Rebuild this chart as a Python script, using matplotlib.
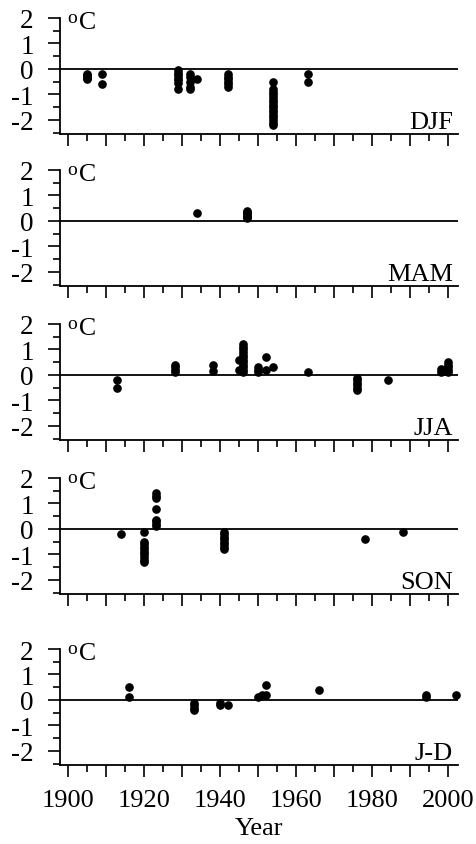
import matplotlib
matplotlib.use("Agg")
import matplotlib.pyplot as plt
from matplotlib.ticker import MultipleLocator
import matplotlib.transforms as mtransforms

plt.rcParams['font.family'] = ['Liberation Serif', 'DejaVu Serif']

# ---- data (year, anomaly in degC) ----
djf_years = [1905]*5 + [1909]*2 + [1929]*7 + [1932]*5 + [1934] + [1942]*6 + [1954]*16 + [1963]*2
djf_vals = [-0.2, -0.25, -0.3, -0.35, -0.4,
            -0.2, -0.6,
            -0.05, -0.15, -0.25, -0.35, -0.45, -0.55, -0.8,
            -0.2, -0.3, -0.5, -0.7, -0.8,
            -0.4,
            -0.2, -0.3, -0.4, -0.5, -0.6, -0.7,
            -0.5, -0.8, -0.9, -1.0, -1.1, -1.2, -1.3, -1.4, -1.5, -1.6, -1.7, -1.8, -1.9, -2.0, -2.1, -2.2,
            -0.2, -0.5]

mam_years = [1934] + [1947]*7
mam_vals = [0.3, 0.1, 0.15, 0.2, 0.25, 0.3, 0.35, 0.4]

jja_years = ([1913]*2 + [1928]*4 + [1938]*2 + [1945]*2 + [1946]*12 + [1950]*3 +
             [1952]*2 + [1954] + [1963] + [1976]*6 + [1984] + [1998]*2 + [2000]*5)
jja_vals = [-0.2, -0.5,
            0.1, 0.2, 0.3, 0.4,
            0.4, 0.15,
            0.6, 0.2,
            0.1, 0.2, 0.3, 0.4, 0.5, 0.6, 0.7, 0.8, 0.9, 1.0, 1.1, 1.2,
            0.1, 0.2, 0.3,
            0.7, 0.2,
            0.3,
            0.1,
            -0.1, -0.2, -0.3, -0.4, -0.5, -0.6,
            -0.2,
            0.25, 0.1,
            0.1, 0.2, 0.3, 0.4, 0.5]

son_years = [1914] + [1920]*10 + [1923]*8 + [1941]*8 + [1978] + [1988]
son_vals = [-0.2,
            -0.1, -0.5, -0.6, -0.7, -0.8, -0.9, -1.0, -1.1, -1.2, -1.3,
            1.4, 1.3, 1.2, 0.8, 0.35, 0.3, 0.2, 0.1,
            -0.1, -0.2, -0.3, -0.4, -0.5, -0.6, -0.7, -0.8,
            -0.4,
            -0.1]

jd_years = [1916]*2 + [1933]*4 + [1940]*2 + [1942] + [1950] + [1951] + [1952]*2 + [1966] + [1994]*2 + [2002]
jd_vals = [0.5, 0.1,
           -0.1, -0.2, -0.3, -0.4,
           -0.1, -0.2,
           -0.2,
           0.1,
           0.2,
           0.2, 0.6,
           0.4,
           0.1, 0.2,
           0.2]

season_labels = ['DJF', 'MAM', 'JJA', 'SON', 'J-D']
series = [(djf_years, djf_vals), (mam_years, mam_vals), (jja_years, jja_vals),
          (son_years, son_vals), (jd_years, jd_vals)]
xtick_vals = list(range(1900, 2001, 10))
xtick_labels = ['1900', '', '1920', '', '1940', '', '1960', '', '1980', '', '2000']
ytick_vals = [-2, -1, 0, 1, 2]

W, H = 476, 845
fig = plt.figure(figsize=(W/100, H/100), dpi=100)

bottoms_px = [135, 287, 441, 595, 766]
panel_h = 116
left_px, right_px = 60, 458

for i, (lab, (xs, ys)) in enumerate(zip(season_labels, series)):
    b = 1 - bottoms_px[i]/H
    ax = fig.add_axes([left_px/W, b, (right_px-left_px)/W, panel_h/H])
    ax.set_xlim(1897.9, 2002.5)
    ax.set_ylim(-2.55, 2.0)
    ax.plot(xs, ys, 'o', color='black', markersize=5.2, clip_on=False, zorder=3)
    ax.axhline(0, color='black', lw=1.3, zorder=2)
    for s in ['top', 'right']:
        ax.spines[s].set_visible(False)
    for s in ['left', 'bottom']:
        ax.spines[s].set_linewidth(1.3)
    ax.set_yticks(ytick_vals)
    ax.set_yticklabels([str(v) for v in ytick_vals])
    ax.yaxis.set_minor_locator(MultipleLocator(0.5))
    ax.set_xticks(xtick_vals)
    ax.xaxis.set_minor_locator(MultipleLocator(5))
    ax.tick_params(which='major', direction='out', length=8.5, width=1.2, pad=8)
    ax.tick_params(which='minor', direction='out', length=5, width=1.2)
    ax.tick_params(axis='y', labelsize=19.5, pad=10.5)
    if i == 4:
        ax.set_xticklabels(xtick_labels)
        ax.tick_params(axis='x', labelsize=19, pad=9)
        ax.set_xlabel('Year', fontsize=19, labelpad=4)
    else:
        ax.set_xticklabels([])
    ax.text(1899.8, 1.84, 'o', fontsize=14, ha='left', va='baseline')
    ax.text(1903.0, 1.6, 'C', fontsize=18.5, ha='left', va='baseline')
    trans = mtransforms.blended_transform_factory(ax.transAxes, ax.transData)
    ax.text(0.987, -2.3, lab, transform=trans, fontsize=19, ha='right', va='baseline')

fig.savefig('out.png', dpi=100)
